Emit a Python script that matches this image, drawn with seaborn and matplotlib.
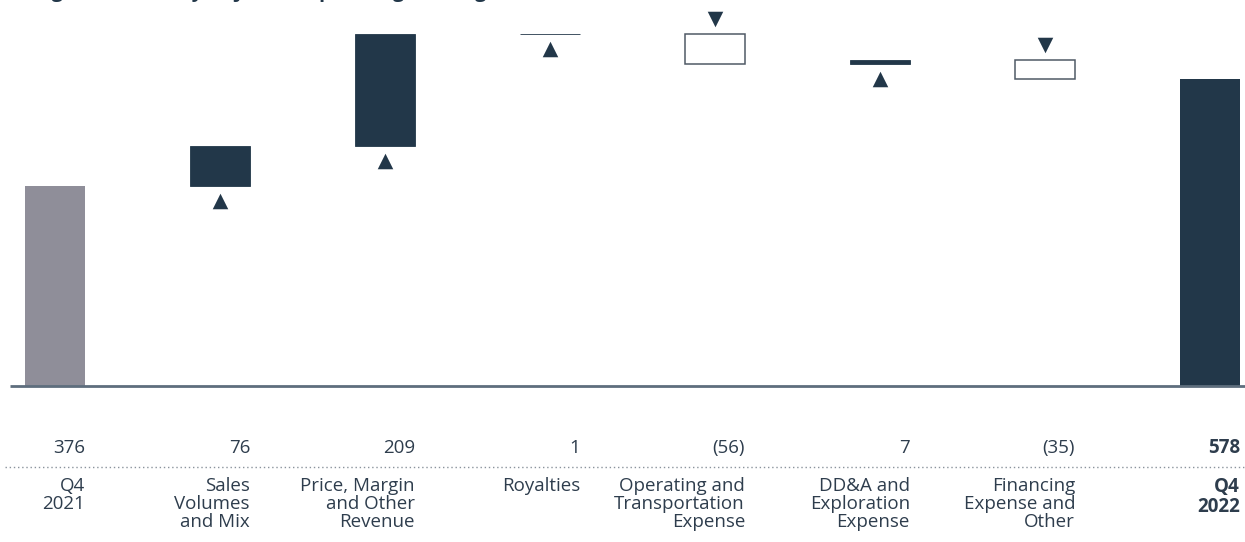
import numpy as np
import pandas as pd
import matplotlib
matplotlib.use("Agg")
import matplotlib.pyplot as plt
import seaborn as sns
from matplotlib.transforms import blended_transform_factory
from matplotlib.lines import Line2D

# ---------------- data ----------------
title = "Change in Quarterly Adjusted Operating Earnings ($ millions)"
categories = [
    "Q4\n2021",
    "Sales\nVolumes\nand Mix",
    "Price, Margin\nand Other\nRevenue",
    "Royalties",
    "Operating and\nTransportation\nExpense",
    "DD&A and\nExploration\nExpense",
    "Financing\nExpense and\nOther",
    "Q4\n2022",
]
amounts = [376, 76, 209, 1, -56, 7, -35, 578]
amount_labels = ["376", "76", "209", "1", "(56)", "7", "(35)", "578"]
is_total = [True, False, False, False, False, False, False, True]
is_bold = [False, False, False, False, False, False, False, True]

# ---------------- style ----------------
NAVY = "#223749"
GREY_BAR = "#8f8e99"
TEXT = "#2e3d4d"
BOX_EDGE = "#4f5a66"
BASE_LINE = "#5e6e7d"
DOTS = "#8a939c"

sns.set_theme(style="white")
plt.rcParams["font.family"] = ["Open Sans", "DejaVu Sans"]

W, H = 1245, 542
fig = plt.figure(figsize=(W / 100, H / 100), dpi=100)
base_px = 386
px_per_unit = 0.532
slot_px = 165
first_center_px = 55
bar_w = 60 / slot_px

ax = fig.add_axes([0, 1 - base_px / H, 1, base_px / H])

# totals via seaborn
df = pd.DataFrame({
    "category": categories,
    "total": [a if t else np.nan for a, t in zip(amounts, is_total)],
})
palette = {c: NAVY for c in categories}
palette[categories[0]] = GREY_BAR
sns.barplot(data=df, x="category", y="total", hue="category", order=categories,
            hue_order=categories, palette=palette, width=bar_w, saturation=1,
            legend=False, ax=ax, linewidth=0)

# floating bars
running = amounts[0]
tri_off = 15 / px_per_unit
for i, (a, t) in enumerate(zip(amounts, is_total)):
    if t:
        continue
    start, end = running, running + a
    bottom, height = min(start, end), abs(a)
    if a >= 0:
        ax.bar(i, height, bottom=bottom, width=bar_w, color=NAVY,
               edgecolor=NAVY, linewidth=0.6, zorder=2)
        ax.scatter([i], [bottom - tri_off], marker="^", s=125, color=NAVY,
                   linewidths=0, zorder=3)
    else:
        ax.bar(i, height, bottom=bottom, width=bar_w, color="white",
               edgecolor=BOX_EDGE, linewidth=1.1, zorder=2)
        ax.scatter([i], [bottom + height + tri_off], marker="v", s=125,
                   color=NAVY, linewidths=0, zorder=3)
    running = end

ax.set_ylim(0, base_px / px_per_unit)
ax.set_xlim(-first_center_px / slot_px, (W - first_center_px) / slot_px)
ax.axis("off")

# baseline
ax.plot([(10 - first_center_px) / slot_px, (W - first_center_px) / slot_px], [0, 0],
        color=BASE_LINE, lw=2, clip_on=False, zorder=4, solid_capstyle="butt")

# labels
trans = blended_transform_factory(ax.transData, fig.transFigure)
for i, (lab, cat, b) in enumerate(zip(amount_labels, categories, is_bold)):
    xr = i + bar_w / 2
    ax.text(xr, 1 - 453 / H, lab, transform=trans, ha="right", va="baseline",
            fontsize=13.5, color=TEXT, fontweight="bold" if b else "normal")
    ax.text(xr, 1 - 477 / H, cat, transform=trans, ha="right", va="top",
            fontsize=13.5, color=TEXT, linespacing=1.0,
            fontweight="bold" if b else "normal", multialignment="right")

fig.add_artist(Line2D([5 / W, 1], [1 - 467 / H] * 2, transform=fig.transFigure,
                      color=DOTS, lw=1, linestyle=(0, (1, 2))))

fig.text(0.0, 1 + 3 / H, title, ha="left", va="baseline", fontsize=14.5,
         fontweight="bold", color=NAVY)

fig.savefig("out.png", dpi=100, facecolor="white")
